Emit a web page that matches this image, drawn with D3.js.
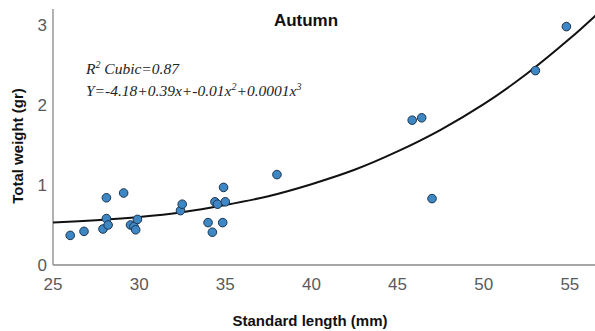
<!DOCTYPE html>
<html>
<head>
<meta charset="utf-8">
<script src="https://cdn.jsdelivr.net/npm/d3@7"></script>
<style>
  html, body { margin: 0; padding: 0; background: #fff; }
  svg { display: block; }
</style>
</head>
<body>
<svg id="chart" width="595" height="331"></svg>
<script>
// ---- data ----
const lengthMm = [26.0, 26.8, 27.9, 28.1, 28.1, 28.2, 29.1, 29.5, 29.7, 29.8, 29.9,
                  32.4, 32.5, 34.0, 34.25, 34.4, 34.55, 34.85, 34.9, 35.0, 38.0,
                  45.85, 46.4, 47.0, 53.0, 54.8];
const weightGr = [0.37, 0.42, 0.45, 0.58, 0.84, 0.50, 0.90, 0.50, 0.48, 0.44, 0.57,
                  0.68, 0.76, 0.53, 0.41, 0.79, 0.76, 0.53, 0.97, 0.79, 1.13,
                  1.81, 1.84, 0.83, 2.43, 2.98];
// fitted cubic curve
const fitX = [25, 27.5, 30, 32.5, 35, 37.5, 40, 42.5, 45, 47.5, 50, 52.5, 55, 56.5];
const fitY = [0.53, 0.56, 0.60, 0.66, 0.75, 0.86, 1.01, 1.19, 1.42, 1.69, 2.01, 2.39, 2.83, 3.12];
const xTicks = [25, 30, 35, 40, 45, 50, 55];
const yTicks = [0, 1, 2, 3];
const titleText = "Autumn";
const xTitle = "Standard length (mm)";
const yTitle = "Total weight (gr)";

// ---- layout ----
const svg = d3.select("#chart");
const padL = 53, padR = 595, padB = 265, padT = 9;
const x = d3.scaleLinear().domain([25, 56.46]).range([padL, padR]);
const y = d3.scaleLinear().domain([0, 3.2]).range([padB, padB - 3.2 * 80]);

svg.append("defs").append("clipPath").attr("id", "plotclip")
  .append("rect").attr("x", padL).attr("y", padT).attr("width", padR - padL).attr("height", padB - padT);

// axes lines
svg.append("line").attr("x1", padL).attr("x2", padL).attr("y1", padT).attr("y2", padB)
  .attr("stroke", "#888").attr("stroke-width", 1.3);
svg.append("line").attr("x1", padL).attr("x2", padR).attr("y1", padB).attr("y2", padB)
  .attr("stroke", "#888").attr("stroke-width", 1.3);

// tick labels
svg.append("g").selectAll("text").data(xTicks).join("text")
  .attr("x", d => x(d)).attr("y", 290)
  .attr("text-anchor", "middle")
  .attr("font-family", "Liberation Sans, Arial, sans-serif")
  .attr("font-size", 17).attr("fill", "#5a5a5a")
  .text(d => d);
svg.append("g").selectAll("text").data(yTicks).join("text")
  .attr("x", 47).attr("y", d => y(d) + 6)
  .attr("text-anchor", "end")
  .attr("font-family", "Liberation Sans, Arial, sans-serif")
  .attr("font-size", 17).attr("fill", "#5a5a5a")
  .text(d => d);

// axis titles
svg.append("text").attr("x", 310).attr("y", 326).attr("text-anchor", "middle")
  .attr("font-family", "Liberation Sans, Arial, sans-serif").attr("font-weight", "bold")
  .attr("font-size", 15).attr("fill", "#111").text(xTitle);
svg.append("text").attr("transform", "translate(23,146) rotate(-90)").attr("text-anchor", "middle")
  .attr("font-family", "Liberation Sans, Arial, sans-serif").attr("font-weight", "bold")
  .attr("font-size", 15).attr("fill", "#111").text(yTitle);

// chart title
svg.append("text").attr("x", 306).attr("y", 26).attr("text-anchor", "middle")
  .attr("font-family", "Liberation Sans, Arial, sans-serif").attr("font-weight", "bold")
  .attr("font-size", 17).attr("fill", "#111").text(titleText);

// fit curve
const line = d3.line().x(d => x(d[0])).y(d => y(d[1])).curve(d3.curveCatmullRom);
svg.append("path").attr("clip-path", "url(#plotclip)")
  .datum(fitX.map((v, i) => [v, fitY[i]]))
  .attr("d", line).attr("fill", "none").attr("stroke", "#111").attr("stroke-width", 2);

// points
svg.append("g").selectAll("circle").data(lengthMm.map((v, i) => [v, weightGr[i]])).join("circle")
  .attr("cx", d => x(d[0])).attr("cy", d => y(d[1])).attr("r", 4.3)
  .attr("fill", "#3d87c4").attr("stroke", "#1d3550").attr("stroke-width", 1);

// annotation
const ann = svg.append("g").attr("font-family", "Liberation Serif, 'Times New Roman', serif")
  .attr("font-style", "italic").attr("font-size", 15.5).attr("fill", "#222");
const t1 = ann.append("text").attr("x", 86).attr("y", 74);
t1.append("tspan").text("R");
t1.append("tspan").attr("font-size", 10).attr("dy", -6).text("2");
t1.append("tspan").attr("dy", 6).text(" Cubic=0.87");
const t2 = ann.append("text").attr("x", 86).attr("y", 96);
t2.append("tspan").text("Y=-4.18+0.39x+-0.01x");
t2.append("tspan").attr("font-size", 10).attr("dy", -6).text("2");
t2.append("tspan").attr("dy", 6).text("+0.0001x");
t2.append("tspan").attr("font-size", 10).attr("dy", -6).text("3");
</script>
</body>
</html>
